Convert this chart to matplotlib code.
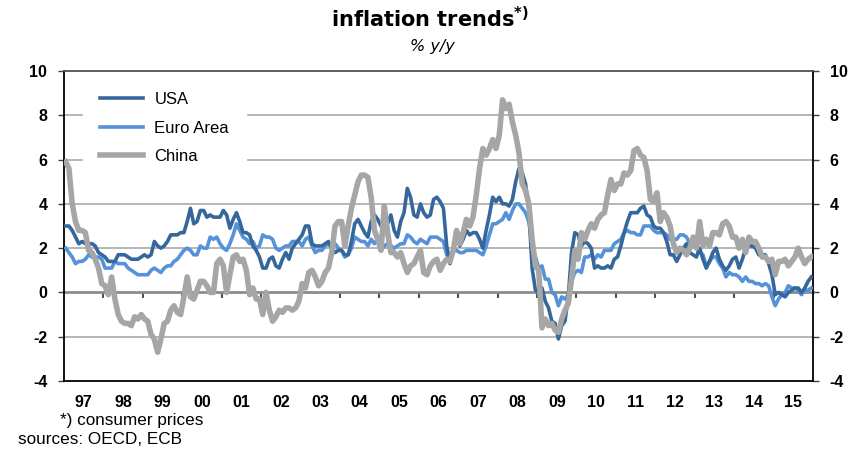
import numpy as np
import matplotlib
matplotlib.use("Agg")
import matplotlib.pyplot as plt

# Monthly data, Jan 1997 - Dec 2015 (% y/y)
usa = [
    3.0, 3.0, 2.8, 2.5, 2.2, 2.3, 2.2, 2.2, 2.2, 2.1, 1.8, 1.7,
    1.6, 1.4, 1.4, 1.4, 1.7, 1.7, 1.7, 1.6, 1.5, 1.5, 1.5, 1.6,
    1.7, 1.6, 1.7, 2.3, 2.1, 2.0, 2.1, 2.3, 2.6, 2.6, 2.6, 2.7,
    2.7, 3.2, 3.8, 3.1, 3.2, 3.7, 3.7, 3.4, 3.5, 3.4, 3.4, 3.4,
    3.7, 3.5, 2.9, 3.3, 3.6, 3.2, 2.7, 2.7, 2.6, 2.1, 1.9, 1.6,
    1.1, 1.1, 1.5, 1.6, 1.2, 1.1, 1.5, 1.8, 1.5, 2.0, 2.2, 2.4,
    2.6, 3.0, 3.0, 2.2, 2.1, 2.1, 2.1, 2.2, 2.3, 2.0, 1.8, 1.9,
    1.9, 1.7, 1.7, 2.3, 3.1, 3.3, 3.0, 2.7, 2.5, 3.2, 3.5, 3.3,
    3.0, 3.0, 3.1, 3.5, 2.8, 2.5, 3.2, 3.6, 4.7, 4.3, 3.5, 3.4,
    4.0, 3.6, 3.4, 3.5, 4.2, 4.3, 4.1, 3.8, 2.1, 1.3, 2.0, 2.5,
    2.1, 2.4, 2.8, 2.6, 2.7, 2.7, 2.4, 2.0, 2.8, 3.5, 4.3, 4.1,
    4.3, 4.0, 4.0, 3.9, 4.2, 5.0, 5.6, 5.4, 4.9, 3.7, 1.1, 0.1,
    0.0, 0.2, -0.4, -0.7, -1.3, -1.4, -2.1, -1.5, -1.3, -0.2, 1.8, 2.7,
    2.6, 2.1, 2.3, 2.2, 2.0, 1.1, 1.2, 1.1, 1.1, 1.2, 1.1, 1.5,
    1.6, 2.1, 2.7, 3.2, 3.6, 3.6, 3.6, 3.8, 3.9, 3.5, 3.4, 3.0,
    2.9, 2.9, 2.7, 2.3, 1.7, 1.7, 1.4, 1.7, 2.0, 2.2, 1.8, 1.7,
    1.6, 2.0, 1.5, 1.1, 1.4, 1.8, 2.0, 1.5, 1.2, 1.0, 1.2, 1.5,
    1.6, 1.1, 1.5, 2.0, 2.1, 2.1, 2.0, 1.7, 1.7, 1.7, 1.3, 0.8,
    -0.1, 0.0, -0.1, -0.2, 0.0, 0.1, 0.2, 0.2, 0.0, 0.2, 0.5, 0.7,
]

euro_area = [
    2.0, 1.8, 1.6, 1.3, 1.4, 1.4, 1.5, 1.7, 1.6, 1.6, 1.6, 1.5,
    1.1, 1.1, 1.1, 1.4, 1.3, 1.3, 1.3, 1.1, 1.0, 0.9, 0.8, 0.8,
    0.8, 0.8, 1.0, 1.1, 1.0, 0.9, 1.1, 1.2, 1.2, 1.4, 1.5, 1.7,
    1.9, 2.0, 1.9, 1.7, 1.7, 2.1, 2.0, 2.0, 2.5, 2.4, 2.5, 2.2,
    2.0, 1.9, 2.2, 2.6, 3.1, 2.8, 2.5, 2.4, 2.2, 2.3, 2.0, 2.1,
    2.6, 2.5, 2.5, 2.4, 2.0, 1.9, 2.0, 2.1, 2.1, 2.3, 2.3, 2.3,
    2.1, 2.4, 2.5, 2.1, 1.8, 1.9, 1.9, 2.1, 2.2, 2.0, 2.2, 2.0,
    1.9, 1.6, 1.7, 2.0, 2.5, 2.4, 2.3, 2.3, 2.1, 2.4, 2.2, 2.4,
    1.9, 2.1, 2.2, 2.1, 2.0, 2.1, 2.2, 2.2, 2.6, 2.5, 2.3, 2.2,
    2.4, 2.3, 2.2, 2.5, 2.5, 2.5, 2.4, 2.3, 1.7, 1.6, 1.9, 1.9,
    1.8, 1.8, 1.9, 1.9, 1.9, 1.9, 1.8, 1.7, 2.1, 2.6, 3.1, 3.1,
    3.2, 3.3, 3.6, 3.3, 3.7, 4.0, 4.0, 3.8, 3.6, 3.2, 2.1, 1.6,
    1.1, 1.2, 0.6, 0.6, 0.0, -0.1, -0.6, -0.2, -0.3, -0.1, 0.5, 0.9,
    1.0, 0.9, 1.6, 1.6, 1.7, 1.5, 1.7, 1.6, 1.9, 1.9, 1.9, 2.2,
    2.3, 2.4, 2.7, 2.8, 2.7, 2.7, 2.6, 2.6, 3.0, 3.0, 3.0, 2.8,
    2.7, 2.7, 2.7, 2.6, 2.4, 2.4, 2.4, 2.6, 2.6, 2.5, 2.2, 2.2,
    2.0, 1.8, 1.7, 1.2, 1.4, 1.6, 1.6, 1.3, 1.1, 0.7, 0.9, 0.8,
    0.8, 0.7, 0.5, 0.7, 0.5, 0.5, 0.4, 0.4, 0.3, 0.4, 0.3, -0.2,
    -0.6, -0.3, -0.1, 0.0, 0.3, 0.2, 0.2, 0.1, -0.1, 0.1, 0.1, 0.2,
]

china = [
    5.9, 5.6, 4.0, 3.2, 2.8, 2.8, 2.7, 1.9, 1.8, 1.5, 1.1, 0.4,
    0.3, -0.1, 0.7, -0.3, -1.0, -1.3, -1.4, -1.4, -1.5, -1.1, -1.2, -1.0,
    -1.2, -1.3, -1.9, -2.1, -2.7, -2.1, -1.4, -1.3, -0.8, -0.6, -0.9, -1.0,
    -0.2, 0.7, -0.2, -0.3, 0.1, 0.5, 0.5, 0.3, 0.0, 0.0, 1.3, 1.5,
    1.2, 0.0, 0.8, 1.6, 1.7, 1.4, 1.5, 1.0, -0.1, 0.2, -0.3, -0.3,
    -1.0, 0.0, -0.8, -1.3, -1.1, -0.8, -0.9, -0.7, -0.7, -0.8, -0.7, -0.4,
    0.4, 0.2, 0.9, 1.0, 0.7, 0.3, 0.5, 0.9, 1.1, 1.8, 3.0, 3.2,
    3.2, 2.1, 3.0, 3.8, 4.4, 5.0, 5.3, 5.3, 5.2, 4.3, 2.8, 2.4,
    1.9, 3.9, 2.7, 1.8, 1.8, 1.6, 1.8, 1.3, 0.9, 1.2, 1.3, 1.6,
    1.9, 0.9, 0.8, 1.2, 1.4, 1.5, 1.0, 1.3, 1.5, 1.4, 1.9, 2.8,
    2.2, 2.7, 3.3, 3.0, 3.4, 4.4, 5.6, 6.5, 6.2, 6.5, 6.9, 6.5,
    7.1, 8.7, 8.3, 8.5, 7.7, 7.1, 6.3, 4.9, 4.6, 4.0, 2.4, 1.2,
    1.0, -1.6, -1.2, -1.5, -1.4, -1.7, -1.8, -1.2, -0.8, -0.5, 0.6, 1.9,
    1.5, 2.7, 2.4, 2.8, 3.1, 2.9, 3.3, 3.5, 3.6, 4.4, 5.1, 4.6,
    4.9, 4.9, 5.4, 5.3, 5.5, 6.4, 6.5, 6.2, 6.1, 5.5, 4.2, 4.1,
    4.5, 3.2, 3.6, 3.4, 3.0, 2.2, 1.8, 2.0, 1.9, 1.7, 2.0, 2.5,
    2.0, 3.2, 2.1, 2.4, 2.1, 2.7, 2.7, 2.6, 3.1, 3.2, 3.0, 2.5,
    2.5, 2.0, 2.4, 1.8, 2.5, 2.3, 2.3, 2.0, 1.6, 1.6, 1.4, 1.5,
    0.8, 1.4, 1.4, 1.5, 1.2, 1.4, 1.6, 2.0, 1.6, 1.3, 1.5, 1.6,
]

year_labels = ["97", "98", "99", "00", "01", "02", "03", "04", "05", "06",
               "07", "08", "09", "10", "11", "12", "13", "14", "15"]
y_ticks = [-4, -2, 0, 2, 4, 6, 8, 10]

plt.rcParams['font.family'] = ['Liberation Sans', 'DejaVu Sans']

fig = plt.figure(figsize=(8.56, 4.51), dpi=100)
ax = fig.add_axes([64 / 856, 1 - 381 / 451, 749 / 856, 310 / 451])

n = len(usa)
x = np.arange(n) + 0.5

ax.plot(x, euro_area, color='#5592d9', lw=2.6, label='Euro Area', zorder=3,
        solid_joinstyle='round')
ax.plot(x, usa, color='#35679c', lw=2.6, label='USA', zorder=4,
        solid_joinstyle='round')
ax.plot(x, china, color='#a6a6a6', lw=4.0, label='China', zorder=5,
        solid_joinstyle='round')

ax.set_xlim(0, 12 * len(year_labels))
ax.set_ylim(-4, 10)

# gridlines
for v in y_ticks:
    if v in (-4, 0, 10):
        continue
    ax.axhline(v, color='#b0b0b0', lw=1.3, zorder=1)

# y axis, both sides
ax.set_yticks(y_ticks)
ax.set_yticklabels([str(v) for v in y_ticks])
ax.tick_params(axis='y', which='major', left=True, right=True,
               labelleft=True, labelright=True, direction='out',
               length=4, width=1, color='#404040', labelsize=11.5, pad=8)
for lab in ax.get_yticklabels():
    lab.set_fontweight('bold')

# primary x axis as the zero line with year-boundary ticks
ax.spines['bottom'].set_position(('data', 0))
ax.spines['bottom'].set_color('#8c8c8c')
ax.spines['bottom'].set_linewidth(2)
ax.spines['bottom'].set_zorder(2)
ax.set_xticks(np.arange(12, 12 * len(year_labels), 12))
ax.tick_params(axis='x', which='major', direction='out', length=4, width=1.5,
               color='#505050', labelbottom=False)

# frame
ax.spines['left'].set_color('black')
ax.spines['left'].set_linewidth(1.3)
ax.spines['right'].set_color('black')
ax.spines['right'].set_linewidth(1.3)
ax.spines['top'].set_color('#505050')
ax.spines['top'].set_linewidth(1.3)

# secondary x axis at the bottom with year labels
sec = ax.secondary_xaxis(0)
sec.set_xticks(np.arange(len(year_labels)) * 12 + 6)
sec.set_xticklabels(year_labels)
sec.tick_params(axis='x', length=0, labelsize=11.5, pad=10)
sec.spines['bottom'].set_color('black')
sec.spines['bottom'].set_linewidth(1.3)
for lab in sec.get_xticklabels():
    lab.set_fontweight('bold')

# legend
handles, labels = ax.get_legend_handles_labels()
order = [1, 0, 2]
leg = ax.legend([handles[i] for i in order], [labels[i] for i in order],
                loc='upper left', bbox_to_anchor=(0.026, 0.985),
                borderaxespad=0, frameon=True, fancybox=False,
                facecolor='white', edgecolor='white', framealpha=1,
                fontsize=12, handlelength=2.6, handletextpad=0.65,
                labelspacing=0.8, borderpad=1.0)
leg.set_zorder(6)

# titles
fig.text(0.502, 1 - 19 / 451, r'inflation trends$^{\mathbf{*)}}$', ha='center',
         va='center', fontsize=15, fontweight='bold', family='DejaVu Sans')
fig.text(0.505, 1 - 47 / 451, '% y/y', ha='center', va='center',
         fontsize=11.5, style='italic', family='DejaVu Sans')

# footnotes
fig.text(60 / 856, 1 - 420 / 451, '*) consumer prices', ha='left',
         va='center', fontsize=12.3)
fig.text(18 / 856, 1 - 439 / 451, 'sources: OECD, ECB', ha='left',
         va='center', fontsize=12.3)

fig.savefig('out.png', dpi=100)
